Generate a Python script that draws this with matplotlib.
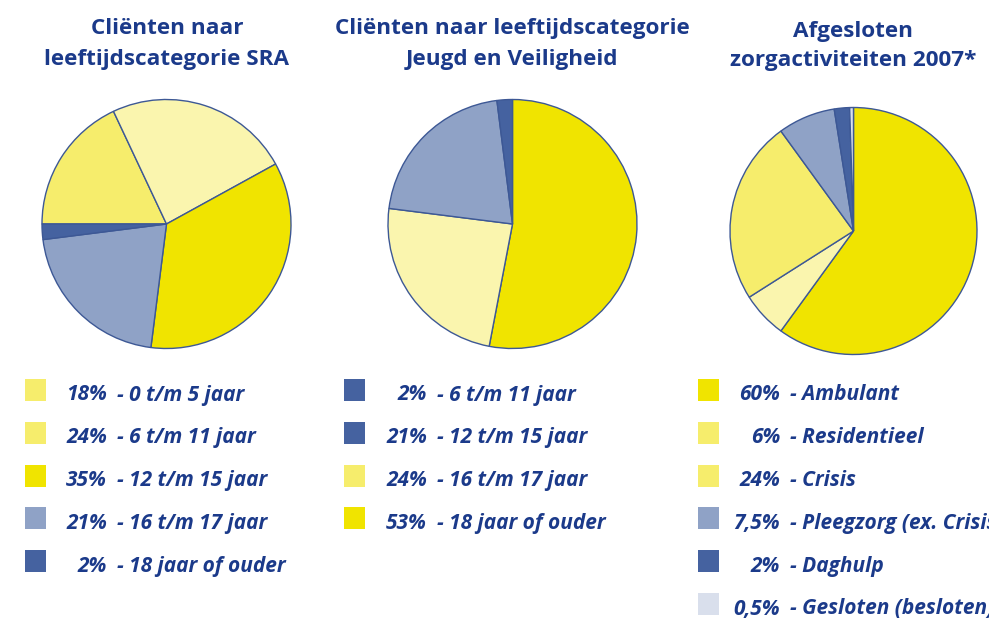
import matplotlib
matplotlib.use("Agg")
import matplotlib.pyplot as plt
from matplotlib.patches import Rectangle

# ---------------- data ----------------
titles = [
    ["Cliënten naar", "leeftijdscategorie SRA"],
    ["Cliënten naar leeftijdscategorie", "Jeugd en Veiligheid"],
    ["Afgesloten", "zorgactiviteiten 2007*"],
]

# pie order (clockwise)
sra_values = [18, 24, 35, 21, 2]
jv_values = [53, 24, 21, 2]
zorg_values = [60, 6, 24, 7.5, 2, 0.5]

# legend texts (legend order)
sra_pct = ["18%", "24%", "35%", "21%", "2%"]
sra_labels = ["0 t/m 5 jaar", "6 t/m 11 jaar", "12 t/m 15 jaar", "16 t/m 17 jaar", "18 jaar of ouder"]
jv_pct = ["2%", "21%", "24%", "53%"]
jv_labels = ["6 t/m 11 jaar", "12 t/m 15 jaar", "16 t/m 17 jaar", "18 jaar of ouder"]
zorg_pct = ["60%", "6%", "24%", "7,5%", "2%", "0,5%"]
zorg_labels = ["Ambulant", "Residentieel", "Crisis", "Pleegzorg (ex. Crisis)", "Daghulp", "Gesloten (besloten)"]

# ---------------- style ----------------
YEL = "#F0E400"
MYEL = "#F6ED6C"
PYEL = "#FAF5AE"
GBLUE = "#8FA2C6"
DBLUE = "#4562A0"
LGREY = "#D9DFEC"
NAVY = "#1B3A8A"
EDGE = "#3D5895"

sra_pie_colors = [MYEL, PYEL, YEL, GBLUE, DBLUE]
jv_pie_colors = [YEL, PYEL, GBLUE, DBLUE]
zorg_pie_colors = [YEL, PYEL, MYEL, GBLUE, DBLUE, LGREY]

sra_leg_colors = [MYEL, MYEL, YEL, GBLUE, DBLUE]
jv_leg_colors = [DBLUE, DBLUE, MYEL, YEL]
zorg_leg_colors = [YEL, MYEL, MYEL, GBLUE, DBLUE, LGREY]

W, H = 989, 623
fig = plt.figure(figsize=(W / 100, H / 100), dpi=100)
fig.patch.set_facecolor("white")

def fx(x):
    return x / W

def fy(y):
    return 1 - y / H

def pie_axes(cx, cy, r):
    return fig.add_axes([fx(cx - r), fy(cy + r), 2 * r / W, 2 * r / H])

pies = [
    (sra_values, sra_pie_colors, 180, (166.5, 224, 124.5)),
    (jv_values, jv_pie_colors, 90, (512.5, 224, 124.5)),
    (zorg_values, zorg_pie_colors, 90, (853.5, 231, 123.5)),
]
for vals, cols, start, (cx, cy, r) in pies:
    ax = pie_axes(cx, cy, r)
    wedges, _ = ax.pie(vals, colors=cols, startangle=start, counterclock=False,
                       wedgeprops=dict(edgecolor=EDGE, linewidth=1.0))
    for w in wedges:
        w.set_clip_on(False)
    ax.set_xlim(-1, 1)
    ax.set_ylim(-1, 1)
    ax.set_aspect("equal")
    ax.axis("off")

# titles
title_font = dict(family=["Open Sans", "DejaVu Sans"], weight="bold", color=NAVY, size=16.2)
title_pos = [(167, 34, 65), (512, 34, 65), (853, 37, 66)]
for (l1, l2), (cx, b1, b2) in zip(titles, title_pos):
    fig.text(fx(cx), fy(b1), l1, ha="center", va="baseline", **title_font)
    fig.text(fx(cx), fy(b2), l2, ha="center", va="baseline", **title_font)

# legends
leg_font = dict(family=["Open Sans", "DejaVu Sans"], weight="bold", style="italic", color=NAVY, size=15)
legends = [
    (sra_pct, sra_labels, sra_leg_colors, 25, 107),
    (jv_pct, jv_labels, jv_leg_colors, 344, 427),
    (zorg_pct, zorg_labels, zorg_leg_colors, 698, 780),
]
for pcts, labs, cols, sx, px in legends:
    for i, (p, lab, c) in enumerate(zip(pcts, labs, cols)):
        top = 379 + i * 42.8
        fig.patches.append(Rectangle((fx(sx), fy(top + 22)), 21 / W, 22 / H,
                                     transform=fig.transFigure, facecolor=c,
                                     edgecolor="none"))
        base = top + 21.5
        fig.text(fx(px), fy(base), p, ha="right", va="baseline", **leg_font)
        fig.text(fx(px + 10), fy(base), "- " + lab, ha="left", va="baseline", **leg_font)

fig.savefig("out.png", dpi=100, facecolor="white")
